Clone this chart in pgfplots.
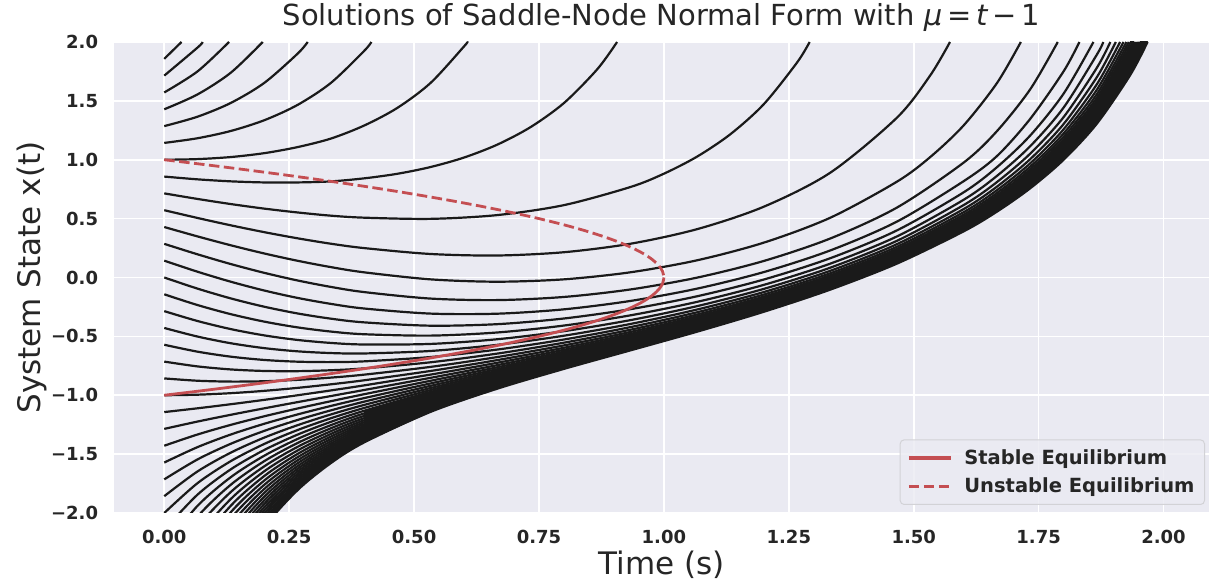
\documentclass[border=0pt]{standalone}
\usepackage{fontspec}
\setmainfont{DejaVu Sans}
\usepackage{pgfplots}
\pgfplotsset{compat=1.18}
\definecolor{bgc}{RGB}{234,234,242}
\definecolor{crv}{RGB}{26,26,26}
\definecolor{redc}{RGB}{196,78,82}
\definecolor{txt}{RGB}{38,38,38}
\definecolor{lgd}{RGB}{210,210,214}
\pgfplotsset{bl/.style={crv, line width=2.2pt, smooth, line join=round, forget plot}}
\begin{document}
\begin{tikzpicture}
\useasboundingbox (0,0) rectangle (1209pt,585pt);
\begin{axis}[
  at={(114.3pt,72pt)}, anchor=south west,
  scale only axis, width=1094.2pt, height=471pt,
  xmin=-0.1, xmax=2.09, ymin=-2, ymax=2,
  axis background/.style={fill=bgc},
  axis line style={draw=none},
  major tick length=0pt,
  grid=major, major grid style={white, line width=1.6pt},
  xtick={0,0.25,0.5,0.75,1,1.25,1.5,1.75,2},
  xticklabels={0.00,0.25,0.50,0.75,1.00,1.25,1.50,1.75,2.00},
  ytick={-2,-1.5,-1,-0.5,0,0.5,1,1.5,2},
  yticklabels={−2.0,−1.5,−1.0,−0.5,0.0,0.5,1.0,1.5,2.0},
  tick label style={font=\fontsize{18}{20}\selectfont\bfseries, text=txt},
  xticklabel style={anchor=base, yshift=-30.5pt, inner sep=0pt},
  yticklabel style={anchor=east, xshift=-16pt, inner sep=0pt},
  title={Solutions of Saddle-Node Normal Form with {\itshape μ}\,=\,{\itshape t}\,−\,1},
  title style={font=\fontsize{29}{32}\selectfont, text=txt, anchor=base, at={(0.5,1)}, yshift=10pt, inner sep=0pt},
  xlabel={Time (s)}, ylabel={System State x(t)},
  label style={font=\fontsize{31}{34}\selectfont, text=txt},
  xlabel style={at={(0.5,0)}, anchor=base, yshift=-62pt, inner sep=0pt},
  ylabel style={at={(0,0.5)}, anchor=base, yshift=73.3pt, inner sep=0pt},
  legend style={at={(1,0)}, anchor=south east, xshift=-3.5pt, yshift=8pt,
    fill=bgc, fill opacity=0.8, text opacity=1, draw=lgd, line width=1pt,
    rounded corners=4pt, font=\fontsize{19.5}{22}\selectfont\bfseries, text=txt,
    inner xsep=7pt, inner ysep=7pt, row sep=6pt, column sep=9pt,
    nodes={inner sep=3pt}},
  legend cell align=left,
  legend image code/.code={\draw[#1, line width=3.2pt, draw opacity=1] (0pt,0pt) -- (42pt,0pt);},
]
% ---- dense band (between x0=-2.143 and x0=-5 solutions) ----
\addplot[fill=crv, draw=none, forget plot] coordinates {
(0.4,-1.1321) (0.5333,-0.9714) (0.6667,-0.8293) (0.8,-0.6931) (0.9333,-0.5548) (1.0667,-0.4079) (1.2,-0.2459) (1.3333,-0.0605) (1.4667,0.1607) (1.6,0.4393) (1.6667,0.6120) (1.7333,0.8180) (1.8,1.0719) (1.8667,1.3985) (1.9333,1.8438) (1.9518,2) (1.9578,2.05) (1.9742,2.05) (1.968,2) (1.9333,1.7193) (1.8667,1.3073) (1.8,0.9999) (1.7333,0.7580) (1.6667,0.5596) (1.6,0.3920) (1.4667,0.1183) (1.3333,-0.1026) (1.2,-0.2911) (1.0667,-0.4599) (0.9333,-0.6186) (0.8,-0.7762) (0.6667,-0.9441) (0.5333,-1.1406) (0.4,-1.4008)};
% ---- upper solutions ----
\addplot[bl] coordinates {(0,1.8571) (0.0345,2)};
\addplot[bl] coordinates {(0,1.7143) (0.0667,1.9530) (0.0769,2)};
\addplot[bl] coordinates {(0,1.5714) (0.0667,1.7507) (0.1296,2)};
\addplot[bl] coordinates {(0,1.4286) (0.0667,1.5551) (0.1333,1.7398) (0.1971,2)};
\addplot[bl] coordinates {(0,1.2857) (0.0667,1.3658) (0.1333,1.4828) (0.2,1.6521) (0.2667,1.9002) (0.2871,2)};
\addplot[bl] coordinates {(0,1.1429) (0.0667,1.1827) (0.1333,1.2445) (0.2,1.3353) (0.2667,1.4654) (0.3333,1.6519) (0.4,1.9240) (0.4145,2)};
\addplot[bl] coordinates {(0,1) (0.0667,1.0054) (0.1333,1.0230) (0.2,1.0557) (0.2667,1.1073) (0.3333,1.1796) (0.4,1.2903) (0.4667,1.4408) (0.5333,1.6536) (0.6,1.9627) (0.6064,2)};
\addplot[bl] coordinates {(0,0.8571) (0.0667,0.8335) (0.1333,0.8165) (0.2,0.8073) (0.2667,0.8073) (0.3333,0.8161) (0.4,0.8420) (0.4667,0.8809) (0.5333,0.9384) (0.6,1.0188) (0.6667,1.1286) (0.7333,1.2776) (0.8,1.4818) (0.8667,1.7689) (0.9063,2)};
\addplot[bl] coordinates {(0,0.7143) (0.0667,0.6670) (0.1333,0.6236) (0.2,0.5850) (0.2667,0.5523) (0.3333,0.5251) (0.4,0.5080) (0.5333,0.4980) (0.6667,0.5301) (0.8,0.6146) (0.9333,0.7688) (1.0,0.8816) (1.0667,1.0273) (1.1333,1.2176) (1.2,1.4723) (1.2667,1.8270) (1.2917,2)};
\addplot[bl] coordinates {(0,0.5714) (0.0667,0.5054) (0.1333,0.4429) (0.2,0.3851) (0.2667,0.3329) (0.3333,0.2869) (0.4,0.2497) (0.5333,0.1996) (0.6667,0.1868) (0.8,0.2146) (0.9333,0.2869) (1.0667,0.4108) (1.2,0.6013) (1.3333,0.8909) (1.4667,1.3584) (1.5333,1.7180) (1.5726,2)};
\addplot[bl] coordinates {(0,0.4286) (0.0667,0.3487) (0.1333,0.2734) (0.2,0.2041) (0.2667,0.1421) (0.3333,0.0883) (0.4,0.0439) (0.5333,-0.0160) (0.6667,-0.0358) (0.8,-0.0157) (0.9333,0.0444) (1.0667,0.1463) (1.2,0.2961) (1.3333,0.5082) (1.4667,0.8146) (1.5333,1.0237) (1.6,1.2919) (1.6667,1.6518) (1.7144,2)};
\addplot[bl] coordinates {(0,0.2857) (0.0667,0.1966) (0.1333,0.1140) (0.2,0.0397) (0.2667,-0.0253) (0.3333,-0.0799) (0.4,-0.1239) (0.5333,-0.1791) (0.6667,-0.1919) (0.8,-0.1653) (0.9333,-0.1015) (1.0667,-0.0008) (1.2,0.1405) (1.3333,0.3318) (1.4667,0.5945) (1.6,0.9761) (1.6667,1.2436) (1.7333,1.5991) (1.7883,2)};
\addplot[bl] coordinates {(0,0.1429) (0.0667,0.0488) (0.1333,-0.0361) (0.2,-0.1105) (0.2667,-0.1734) (0.3333,-0.2240) (0.4,-0.2634) (0.5333,-0.3067) (0.6667,-0.3074) (0.8,-0.2704) (0.9333,-0.1990) (1.0667,-0.0944) (1.2,0.0461) (1.3333,0.2303) (1.4667,0.4753) (1.6,0.8182) (1.6667,1.0317) (1.7333,1.3480) (1.8,1.7510) (1.8316,2)};
\addplot[bl] coordinates {(0,0) (0.0667,-0.0947) (0.1333,-0.1778) (0.2,-0.2481) (0.2667,-0.3054) (0.3333,-0.3496) (0.4,-0.3811) (0.5333,-0.4093) (0.6667,-0.3963) (0.8,-0.3482) (0.9333,-0.2687) (1.0667,-0.1592) (1.2,-0.0172) (1.3333,0.1644) (1.4667,0.4006) (1.6,0.7235) (1.6667,0.9372) (1.7333,1.2065) (1.8,1.5616) (1.8597,2)};
% ---- lower solutions ----
\addplot[bl] coordinates {(0,-0.1429) (0.0667,-0.2342) (0.1333,-0.3116) (0.2,-0.3747) (0.2667,-0.4237) (0.3333,-0.4591) (0.4,-0.4819) (0.5333,-0.4936) (0.6667,-0.4669) (0.8,-0.4081) (0.9333,-0.3211) (1.0667,-0.2067) (1.2,-0.0626) (1.3333,0.1181) (1.4667,0.3494) (1.6,0.6603) (1.6667,0.8632) (1.7333,1.1156) (1.8,1.4432) (1.8667,1.8939) (1.8793,2)};
\addplot[bl] coordinates {(0,-0.2857) (0.0667,-0.3698) (0.1333,-0.4384) (0.2,-0.4916) (0.2667,-0.5304) (0.3333,-0.5557) (0.4,-0.5690) (0.5333,-0.5641) (0.6667,-0.5243) (0.8,-0.4557) (0.9333,-0.3618) (1.0667,-0.2430) (1.2,-0.0967) (1.3333,0.0838) (1.4667,0.3122) (1.6,0.6152) (1.6667,0.8109) (1.7333,1.0524) (1.8,1.3622) (1.8667,1.7822) (1.8935,2)};
\addplot[bl] coordinates {(0,-0.4286) (0.0667,-0.5018) (0.1333,-0.5585) (0.2,-0.5998) (0.2667,-0.6270) (0.3333,-0.6417) (0.4,-0.6452) (0.5333,-0.6239) (0.6667,-0.5718) (0.8,-0.4944) (0.9333,-0.3944) (1.0667,-0.2717) (1.2,-0.1234) (1.3333,0.0574) (1.4667,0.2838) (1.6,0.5814) (1.6667,0.7721) (1.7333,1.0058) (1.8,1.3033) (1.8667,1.7023) (1.9044,2)};
\addplot[bl] coordinates {(0,-0.5714) (0.0667,-0.6301) (0.1333,-0.6725) (0.2,-0.7003) (0.2667,-0.7150) (0.3333,-0.7185) (0.4,-0.7122) (0.5333,-0.6753) (0.6667,-0.6119) (0.8,-0.5266) (0.9333,-0.4211) (1.0667,-0.2950) (1.2,-0.1447) (1.3333,0.0365) (1.4667,0.2615) (1.6,0.5551) (1.6667,0.7421) (1.7333,0.9701) (1.8,1.2586) (1.8667,1.6423) (1.9130,2)};
\addplot[bl] coordinates {(0,-0.7143) (0.0667,-0.7551) (0.1333,-0.7809) (0.2,-0.7938) (0.2667,-0.7955) (0.3333,-0.7877) (0.4,-0.7718) (0.5333,-0.7199) (0.6667,-0.6461) (0.8,-0.5536) (0.9333,-0.4434) (1.0667,-0.3142) (1.2,-0.1622) (1.3333,0.0194) (1.4667,0.2435) (1.6,0.5340) (1.6667,0.7182) (1.7333,0.9418) (1.8,1.2234) (1.8667,1.5956) (1.9199,2)};
\addplot[bl] coordinates {(0,-0.8571) (0.0667,-0.8768) (0.1333,-0.8841) (0.2,-0.8811) (0.2667,-0.8694) (0.3333,-0.8503) (0.4,-0.8251) (0.5333,-0.7590) (0.6667,-0.6756) (0.8,-0.5767) (0.9333,-0.4622) (1.0667,-0.3303) (1.2,-0.1768) (1.3333,0.0053) (1.4667,0.2287) (1.6,0.5168) (1.6667,0.6987) (1.7333,0.9189) (1.8,1.1951) (1.8667,1.5582) (1.9257,2)};
\addplot[bl] coordinates {(0,-1) (0.0667,-0.9953) (0.1333,-0.9824) (0.2,-0.9627) (0.2667,-0.9374) (0.3333,-0.9072) (0.4,-0.8730) (0.5333,-0.7936) (0.6667,-0.7014) (0.8,-0.5967) (0.9333,-0.4784) (1.0667,-0.3440) (1.2,-0.1892) (1.3333,-0.0066) (1.4667,0.2162) (1.6,0.5025) (1.6667,0.6825) (1.7333,0.8999) (1.8,1.1717) (1.8667,1.5275) (1.9305,2)};
\addplot[bl] coordinates {(0,-1.1429) (0.0667,-1.1108) (0.1333,-1.0762) (0.2,-1.0393) (0.2667,-1.0002) (0.3333,-0.9592) (0.4,-0.9162) (0.5333,-0.8244) (0.6667,-0.7241) (0.8,-0.6141) (0.9333,-0.4924) (1.0667,-0.3559) (1.2,-0.1998) (1.3333,-0.0168) (1.4667,0.2057) (1.6,0.4903) (1.6667,0.6689) (1.7333,0.8840) (1.8,1.1521) (1.8667,1.5020) (1.9333,1.9884) (1.9347,2)};
\addplot[bl] coordinates {(0,-1.2857) (0.0667,-1.2234) (0.1333,-1.1658) (0.2,-1.1112) (0.2667,-1.0585) (0.3333,-1.0068) (0.4,-0.9555) (0.5333,-0.8519) (0.6667,-0.7442) (0.8,-0.6295) (0.9333,-0.5047) (1.0667,-0.3662) (1.2,-0.2090) (1.3333,-0.0256) (1.4667,0.1966) (1.6,0.4799) (1.6667,0.6572) (1.7333,0.8704) (1.8,1.1355) (1.8667,1.4804) (1.9333,1.9579) (1.9381,2)};
\addplot[bl] coordinates {(0,-1.4286) (0.0667,-1.3332) (0.1333,-1.2514) (0.2,-1.1788) (0.2667,-1.1126) (0.3333,-1.0507) (0.4,-0.9914) (0.5333,-0.8768) (0.6667,-0.7622) (0.8,-0.6431) (0.9333,-0.5155) (1.0667,-0.3753) (1.2,-0.2171) (1.3333,-0.0333) (1.4667,0.1887) (1.6,0.4709) (1.6667,0.6471) (1.7333,0.8587) (1.8,1.1212) (1.8667,1.4619) (1.9333,1.9319) (1.9411,2)};
\addplot[bl] coordinates {(0,-1.5714) (0.0667,-1.4403) (0.1333,-1.3333) (0.2,-1.2426) (0.2667,-1.1631) (0.3333,-1.0911) (0.4,-1.0243) (0.5333,-0.8993) (0.6667,-0.7783) (0.8,-0.6552) (0.9333,-0.5251) (1.0667,-0.3833) (1.2,-0.2242) (1.3333,-0.0400) (1.4667,0.1817) (1.6,0.4630) (1.6667,0.6383) (1.7333,0.8484) (1.8,1.1088) (1.8667,1.4458) (1.9333,1.9095) (1.9438,2)};
\addplot[bl] coordinates {(0,-1.7143) (0.0667,-1.5447) (0.1333,-1.4118) (0.2,-1.3029) (0.2667,-1.2102) (0.3333,-1.1286) (0.4,-1.0545) (0.5333,-0.9198) (0.6667,-0.7929) (0.8,-0.6661) (0.9333,-0.5337) (1.0667,-0.3905) (1.2,-0.2305) (1.3333,-0.0460) (1.4667,0.1756) (1.6,0.4560) (1.6667,0.6306) (1.7333,0.8394) (1.8,1.0978) (1.8667,1.4318) (1.9333,1.8899) (1.9462,2)};
\addplot[bl] coordinates {(0,-1.8571) (0.0667,-1.6467) (0.1333,-1.4870) (0.2,-1.3599) (0.2667,-1.2543) (0.3333,-1.1634) (0.4,-1.0824) (0.5333,-0.9385) (0.6667,-0.8062) (0.8,-0.6760) (0.9333,-0.5414) (1.0667,-0.3969) (1.2,-0.2362) (1.3333,-0.0514) (1.4667,0.1701) (1.6,0.4498) (1.6667,0.6237) (1.7333,0.8314) (1.8,1.0882) (1.8667,1.4194) (1.9333,1.8727) (1.9483,2)};
\addplot[bl] coordinates {(0,-2) (0.0667,-1.7462) (0.1333,-1.5592) (0.2,-1.4139) (0.2667,-1.2957) (0.3333,-1.1958) (0.4,-1.1082) (0.5333,-0.9556) (0.6667,-0.8182) (0.8,-0.6850) (0.9333,-0.5485) (1.0667,-0.4027) (1.2,-0.2413) (1.3333,-0.0562) (1.4667,0.1652) (1.6,0.4443) (1.6667,0.6175) (1.7333,0.8243) (1.8,1.0796) (1.8667,1.4083) (1.9333,1.8574) (1.9501,2)};
\addplot[bl] coordinates {(0,-2.1429) (0.0667,-1.8435) (0.1333,-1.6286) (0.2,-1.4651) (0.2667,-1.3346) (0.3333,-1.2260) (0.4,-1.1321) (0.5333,-0.9714) (0.6667,-0.8293) (0.8,-0.6931) (0.9333,-0.5548) (1.0667,-0.4079) (1.2,-0.2459) (1.3333,-0.0605) (1.4667,0.1607) (1.6,0.4393) (1.6667,0.6120) (1.7333,0.8180) (1.8,1.0719) (1.8667,1.3985) (1.9333,1.8438) (1.9518,2)};
% ---- band solutions entering from below ----
\addplot[bl] coordinates {(0,-2.2857) (0.0667,-1.9384) (0.1333,-1.6952) (0.2,-1.5138) (0.2667,-1.3713) (0.3333,-1.2543) (0.4,-1.1544) (0.5333,-0.9860)};
\addplot[bl] coordinates {(0,-2.4286) (0.0667,-2.0312) (0.1333,-1.7593) (0.2,-1.5601) (0.2667,-1.4058) (0.3333,-1.2808) (0.4,-1.1752) (0.5333,-0.9995)};
\addplot[bl] coordinates {(0,-2.5714) (0.0667,-2.1219) (0.1333,-1.8210) (0.2,-1.6041) (0.2667,-1.4385) (0.3333,-1.3057) (0.4,-1.1947) (0.5333,-1.0121)};
\addplot[bl] coordinates {(0,-2.7143) (0.0667,-2.2105) (0.1333,-1.8804) (0.2,-1.6462) (0.2667,-1.4694) (0.3333,-1.3291) (0.4,-1.2129) (0.5333,-1.0238)};
\addplot[bl] coordinates {(0,-2.8571) (0.0667,-2.2971) (0.1333,-1.9377) (0.2,-1.6863) (0.2667,-1.4987) (0.3333,-1.3512) (0.4,-1.2300) (0.5333,-1.0347)};
\addplot[bl] coordinates {(0.0667,-2.3819) (0.1333,-1.9930) (0.2,-1.7246) (0.2667,-1.5265) (0.3333,-1.3721) (0.4,-1.2461) (0.5333,-1.0450)};
\addplot[bl] coordinates {(0.0667,-2.4649) (0.1333,-2.0463) (0.2,-1.7613) (0.2667,-1.5529) (0.3333,-1.3918) (0.4,-1.2613) (0.5333,-1.0545)};
\addplot[bl] coordinates {(0.0667,-2.5460) (0.1333,-2.0978) (0.2,-1.7964) (0.2667,-1.5781) (0.3333,-1.4106) (0.4,-1.2756) (0.5333,-1.0636)};
\addplot[bl] coordinates {(0.0667,-2.6255) (0.1333,-2.1476) (0.2,-1.8300) (0.2667,-1.6021) (0.3333,-1.4283) (0.4,-1.2892) (0.5333,-1.0720)};
\addplot[bl] coordinates {(0.0667,-2.7032) (0.1333,-2.1957) (0.2,-1.8623) (0.2667,-1.6249) (0.3333,-1.4452) (0.4,-1.3020) (0.5333,-1.0800)};
\addplot[bl] coordinates {(0.0667,-2.7794) (0.1333,-2.2423) (0.2,-1.8933) (0.2667,-1.6467) (0.3333,-1.4612) (0.4,-1.3142) (0.5333,-1.0876)};
\addplot[bl] coordinates {(0.0667,-2.8540) (0.1333,-2.2873) (0.2,-1.9230) (0.2667,-1.6676) (0.3333,-1.4765) (0.4,-1.3257) (0.5333,-1.0948)};
\addplot[bl] coordinates {(0.0667,-2.9270) (0.1333,-2.3310) (0.2,-1.9517) (0.2667,-1.6876) (0.3333,-1.4910) (0.4,-1.3367) (0.5333,-1.1015)};
\addplot[bl] coordinates {(0.0667,-2.9986) (0.1333,-2.3733) (0.2,-1.9792) (0.2667,-1.7067) (0.3333,-1.5049) (0.4,-1.3472) (0.5333,-1.1080)};
\addplot[bl] coordinates {(0.0667,-3.0688) (0.1333,-2.4143) (0.2,-2.0057) (0.2667,-1.7250) (0.3333,-1.5182) (0.4,-1.3572) (0.5333,-1.1141)};
\addplot[bl] coordinates {(0.0667,-3.1375) (0.1333,-2.4541) (0.2,-2.0313) (0.2667,-1.7426) (0.3333,-1.5309) (0.4,-1.3667) (0.5333,-1.1199)};
\addplot[bl] coordinates {(0.0667,-3.2050) (0.1333,-2.4926) (0.2,-2.0559) (0.2667,-1.7595) (0.3333,-1.5431) (0.4,-1.3758) (0.5333,-1.1255)};
\addplot[bl] coordinates {(0.0667,-3.2711) (0.1333,-2.5301) (0.2,-2.0797) (0.2667,-1.7757) (0.3333,-1.5548) (0.4,-1.3845) (0.5333,-1.1307)};
\addplot[bl] coordinates {(0.0667,-3.3360) (0.1333,-2.5665) (0.2,-2.1026) (0.2667,-1.7913) (0.3333,-1.5659) (0.4,-1.3929) (0.5333,-1.1358)};
\addplot[bl] coordinates {(0.0667,-3.3996) (0.1333,-2.6018) (0.2,-2.1248) (0.2667,-1.8064) (0.3333,-1.5767) (0.4,-1.4008) (0.5333,-1.1406) (0.6667,-0.9441) (0.8,-0.7762) (0.9333,-0.6186) (1.0667,-0.4599) (1.2,-0.2911) (1.3333,-0.1026) (1.4667,0.1183) (1.6,0.3920) (1.6667,0.5596) (1.7333,0.7580) (1.8,0.9999) (1.8667,1.3073) (1.9333,1.7193) (1.968,2)};
% ---- equilibria ----
\addplot[redc, line width=2.8pt, smooth] coordinates {(0,-1) (0.0975,-0.95) (0.19,-0.9) (0.2775,-0.85) (0.36,-0.8) (0.4375,-0.75) (0.51,-0.7) (0.5775,-0.65) (0.64,-0.6) (0.6975,-0.55) (0.75,-0.5) (0.7975,-0.45) (0.84,-0.4) (0.8775,-0.35) (0.91,-0.3) (0.9375,-0.25) (0.96,-0.2) (0.9775,-0.15) (0.99,-0.1) (0.9975,-0.05) (1,0)};
\addlegendentry{Stable Equilibrium}
\addplot[redc, line width=2.8pt, smooth, dash pattern=on 10.5pt off 4.5pt] coordinates {(0,1) (0.0975,0.95) (0.19,0.9) (0.2775,0.85) (0.36,0.8) (0.4375,0.75) (0.51,0.7) (0.5775,0.65) (0.64,0.6) (0.6975,0.55) (0.75,0.5) (0.7975,0.45) (0.84,0.4) (0.8775,0.35) (0.91,0.3) (0.9375,0.25) (0.96,0.2) (0.9775,0.15) (0.99,0.1) (0.9975,0.05) (1,0)};
\addlegendentry{Unstable Equilibrium}
\end{axis}
\end{tikzpicture}
\end{document}
